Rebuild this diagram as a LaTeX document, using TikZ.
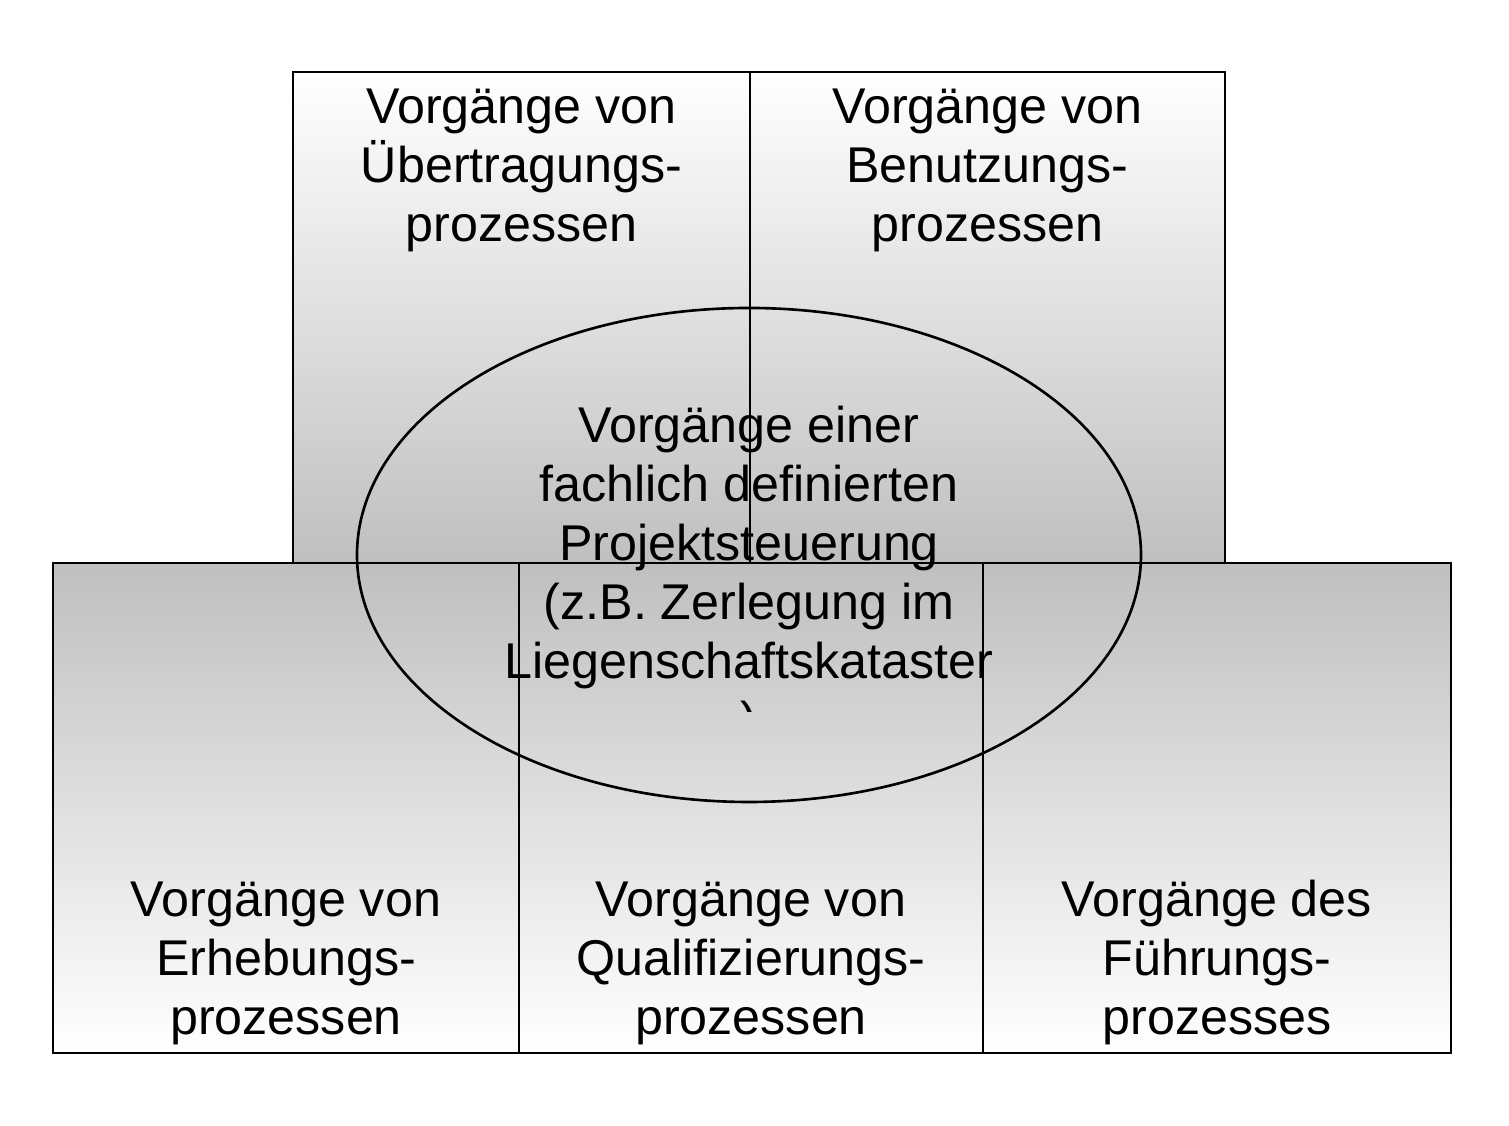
\documentclass[tikz,border=0pt]{standalone}
\usepackage{fontspec}
\setmainfont{Liberation Sans}
\usetikzlibrary{shapes.geometric,positioning}

\begin{document}
\begin{tikzpicture}[line width=0.6pt,
  top node/.style={rectangle,draw,top color=white,bottom color=black!25,minimum height=4.91cm,inner sep=0pt,outer sep=0pt,anchor=north west},
  bottom node/.style={rectangle,draw,top color=black!25,bottom color=white,minimum height=4.90cm,inner sep=0pt,outer sep=0pt,anchor=north west},
  oval node/.style={ellipse,draw,line width=0.75pt,minimum width=7.84cm,minimum height=4.94cm,inner sep=0pt,outer sep=0pt},
  text node/.style={align=center,inner sep=0pt,anchor=base,font=\fontsize{14.3pt}{16.8pt}\selectfont}]

  \useasboundingbox (0,0) rectangle (15.09,11.26);
  % upper row
  \node[top node,minimum width=4.57cm] (1) at (2.93,10.54) {};
  \node[top node,minimum width=4.75cm] (2) at (1.north east) {};
  % lower row
  \node[bottom node,minimum width=4.66cm] (3) at (0.53,5.63) {};
  \node[bottom node,minimum width=4.64cm] (4) at (3.north east) {};
  \node[bottom node,minimum width=4.68cm] (5) at (4.north east) {};
  % centre
  \node[oval node] (6) at (7.49,5.71) {};

  % base = last line
  \node[text node] (11) at ([yshift=-1.70cm]1.north) {Vorgänge von\\Übertragungs-\\prozessen};
  \node[text node] (12) at ([yshift=-1.70cm]2.north) {Vorgänge von\\Benutzungs-\\prozessen};
  \node[text node] (13) at ([yshift=0.18cm]3.south) {Vorgänge von\\Erhebungs-\\prozessen};
  \node[text node] (14) at ([yshift=0.18cm]4.south) {Vorgänge von\\Qualifizierungs-\\prozessen};
  \node[text node] (15) at ([yshift=0.18cm]5.south) {Vorgänge des\\Führungs-\\prozesses};
  \begin{scope}
    \clip (0,4.14) rectangle (15.09,11.26);
    \node[text node] (16) at ([yshift=-4.30cm]6.north) {Vorgänge einer\\fachlich definierten\\Projektsteuerung\\(z.B. Zerlegung im\\Liegenschaftskataster\\)};
  \end{scope}
\end{tikzpicture}
\end{document}
